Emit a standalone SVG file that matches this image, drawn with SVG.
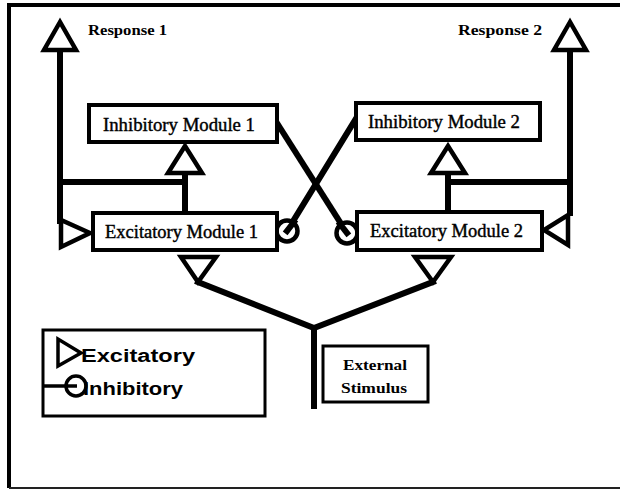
<svg xmlns="http://www.w3.org/2000/svg" width="620" height="490" viewBox="0 0 620 490">
<style>
.box{fill:#fff;stroke:#000;stroke-width:4}
.thin{fill:#fff;stroke:#000;stroke-width:3}
.ln{fill:none;stroke:#000;stroke-width:6;stroke-linecap:square}
.tri{fill:#fff;stroke:#000;stroke-width:4.5;stroke-linejoin:miter}
.circ{fill:#fff;stroke:#000;stroke-width:4.5}
.mod{font-family:"Liberation Serif",serif;font-size:18px;fill:#000;stroke:#000;stroke-width:0.4}
.lbl{font-family:"Liberation Serif",serif;font-size:15px;font-weight:bold;fill:#000}
.leg{font-family:"Liberation Sans",sans-serif;font-size:18px;font-weight:bold;fill:#000}
</style>
<rect width="620" height="490" fill="#fff"/>
<g id="frame">
<path d="M620 5 H9 V488" fill="none" stroke="#000" stroke-width="4"/>
<path d="M9 488 H620" fill="none" stroke="#222" stroke-width="2"/>
</g>
<g id="connectors">
<path class="ln" d="M60 50 V221"/>
<path class="ln" d="M60 182 H185"/>
<path class="ln" d="M185 173 V211"/>
<path class="ln" d="M570 50 V213"/>
<path class="ln" d="M448 182 H570"/>
<path class="ln" d="M448 173 V211"/>
<path class="ln" d="M277 123 L347 233"/>
<path class="ln" d="M357 117 L287 231"/>
<path class="ln" d="M198 282 L314 328 L433 282"/>
<path class="ln" d="M314 328 V406"/>
<polygon class="tri" points="60,22 44,50 76,50"/>
<polygon class="tri" points="570,22 554,50 586,50"/>
<polygon class="tri" points="185,146 168,173 202,173"/>
<polygon class="tri" points="448,146 431,173 465,173"/>
<polygon class="tri" points="61,220 61,247 90,233"/>
<polygon class="tri" points="568,215 568,245 544,230"/>
<polygon class="tri" points="181,257 216,257 198,282"/>
<polygon class="tri" points="415,257 451,257 433,282"/>
<circle class="circ" cx="287" cy="231" r="10.5"/>
<path class="ln" d="M294 222 L287 231" stroke-width="4"/>
<circle class="circ" cx="347" cy="233" r="10.5"/>
<path class="ln" d="M340 224 L347 233" stroke-width="4"/>
</g>
<g id="response1"><text class="lbl" x="88" y="35" textLength="79" lengthAdjust="spacingAndGlyphs">Response 1</text></g>
<g id="response2"><text class="lbl" x="458" y="35" textLength="84" lengthAdjust="spacingAndGlyphs">Response 2</text></g>
<g id="inhibitory1">
<rect class="box" x="89" y="105" width="188" height="37"/>
<text class="mod" x="103" y="131" textLength="152" lengthAdjust="spacingAndGlyphs">Inhibitory Module 1</text>
</g>
<g id="inhibitory2">
<rect class="box" x="356" y="103" width="184" height="37"/>
<text class="mod" x="368" y="128" textLength="152" lengthAdjust="spacingAndGlyphs">Inhibitory Module 2</text>
</g>
<g id="excitatory1">
<rect class="box" x="93" y="213" width="184" height="37"/>
<text class="mod" x="105" y="238" textLength="153" lengthAdjust="spacingAndGlyphs">Excitatory Module 1</text>
</g>
<g id="excitatory2">
<rect class="box" x="357" y="212" width="185" height="38"/>
<text class="mod" x="370" y="237" textLength="153" lengthAdjust="spacingAndGlyphs">Excitatory Module 2</text>
</g>
<g id="stimulus">
<rect class="thin" x="323" y="346" width="105" height="56"/>
<text class="lbl" x="375" y="370" text-anchor="middle" textLength="64" lengthAdjust="spacingAndGlyphs">External</text>
<text class="lbl" x="374" y="393" text-anchor="middle" textLength="66" lengthAdjust="spacingAndGlyphs">Stimulus</text>
</g>
<g id="legend">
<rect class="thin" x="43" y="330" width="222" height="86"/>
<polygon points="58,339 58,366 81,353" fill="#fff" stroke="#000" stroke-width="3.5"/>
<text class="leg" x="81" y="362" textLength="114" lengthAdjust="spacingAndGlyphs">Excitatory</text>
<path d="M43 386 H77" stroke="#000" stroke-width="3.5"/>
<circle cx="76" cy="386" r="10" fill="none" stroke="#000" stroke-width="3.5"/>
<text class="leg" x="83" y="395" textLength="100" lengthAdjust="spacingAndGlyphs">Inhibitory</text>
</g>
</svg>
